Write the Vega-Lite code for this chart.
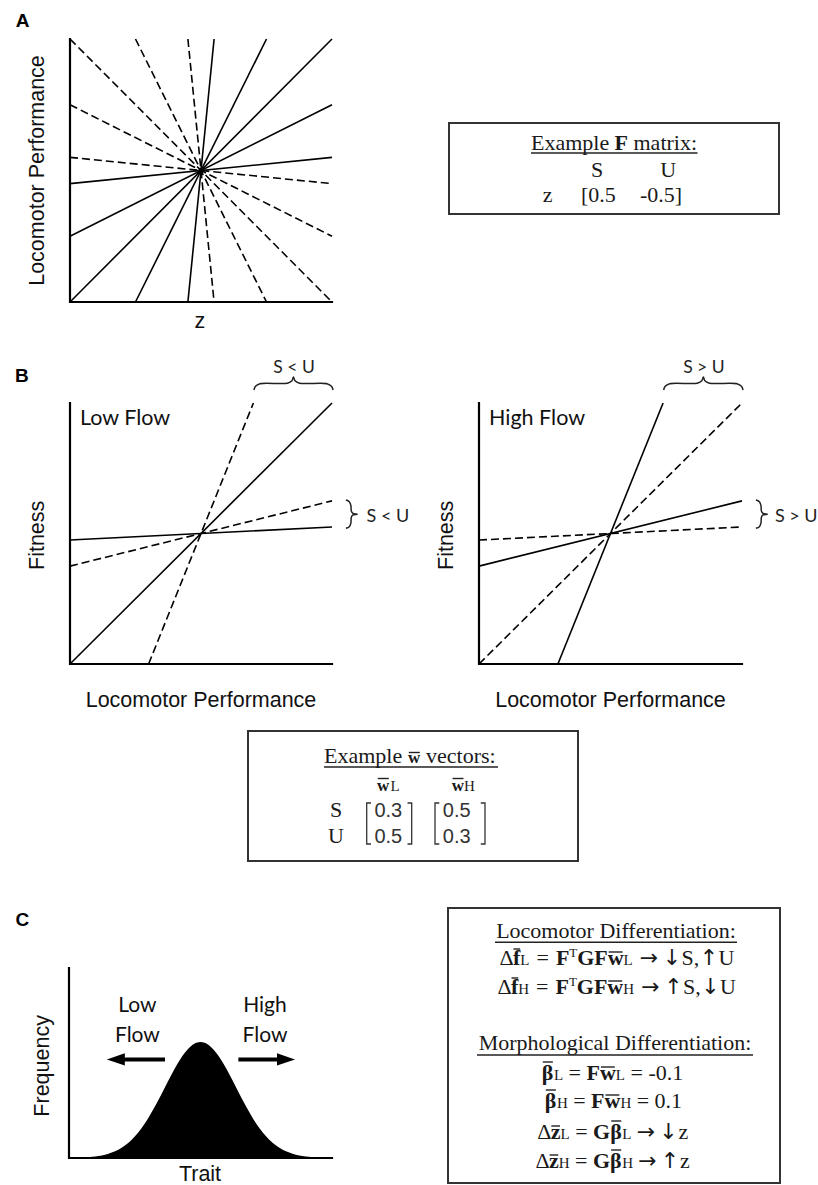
{
  "$schema": "https://vega.github.io/schema/vega-lite/v6.json",
  "width": 818,
  "height": 1185,
  "autosize": "none",
  "padding": 0,
  "background": "white",
  "config": {"view": {"stroke": null}},
  "datasets": {
    "corner": [{"i": 0, "x": 0, "y": 10}, {"i": 1, "x": 0, "y": 0}, {"i": 2, "x": 10, "y": 0}],
    "lineSegs": [
      {"panel": "A", "style": "solid", "x": 0, "y": 0, "x2": 10, "y2": 10},
      {"panel": "A", "style": "solid", "x": 2.5, "y": 0, "x2": 7.5, "y2": 10},
      {"panel": "A", "style": "solid", "x": 4.5, "y": 0, "x2": 5.5, "y2": 10},
      {"panel": "A", "style": "solid", "x": 0, "y": 2.5, "x2": 10, "y2": 7.5},
      {"panel": "A", "style": "solid", "x": 0, "y": 4.5, "x2": 10, "y2": 5.5},
      {"panel": "A", "style": "dashed", "x": 0, "y": 10, "x2": 10, "y2": 0},
      {"panel": "A", "style": "dashed", "x": 2.5, "y": 10, "x2": 7.5, "y2": 0},
      {"panel": "A", "style": "dashed", "x": 4.5, "y": 10, "x2": 5.5, "y2": 0},
      {"panel": "A", "style": "dashed", "x": 0, "y": 7.5, "x2": 10, "y2": 2.5},
      {"panel": "A", "style": "dashed", "x": 0, "y": 5.5, "x2": 10, "y2": 4.5},
      {"panel": "low", "style": "solid", "x": 0, "y": 0, "x2": 10, "y2": 10},
      {"panel": "low", "style": "dashed", "x": 3, "y": 0, "x2": 7, "y2": 10},
      {"panel": "low", "style": "solid", "x": 0, "y": 4.75, "x2": 10, "y2": 5.25},
      {"panel": "low", "style": "dashed", "x": 0, "y": 3.75, "x2": 10, "y2": 6.25},
      {"panel": "high", "style": "dashed", "x": 0, "y": 0, "x2": 10, "y2": 10},
      {"panel": "high", "style": "solid", "x": 3, "y": 0, "x2": 7, "y2": 10},
      {"panel": "high", "style": "solid", "x": 0, "y": 3.75, "x2": 10, "y2": 6.25},
      {"panel": "high", "style": "dashed", "x": 0, "y": 4.75, "x2": 10, "y2": 5.25}
    ],
    "braces": [
      {"id": "top", "i": 0, "x": 7.02, "y": 10.5},
      {"id": "top", "i": 1, "x": 7.08, "y": 10.64},
      {"id": "top", "i": 2, "x": 7.25, "y": 10.74},
      {"id": "top", "i": 3, "x": 8.3, "y": 10.76},
      {"id": "top", "i": 4, "x": 8.47, "y": 10.85},
      {"id": "top", "i": 5, "x": 8.53, "y": 11.0},
      {"id": "top", "i": 6, "x": 8.59, "y": 10.85},
      {"id": "top", "i": 7, "x": 8.76, "y": 10.76},
      {"id": "top", "i": 8, "x": 9.81, "y": 10.74},
      {"id": "top", "i": 9, "x": 9.98, "y": 10.64},
      {"id": "top", "i": 10, "x": 10.04, "y": 10.5},
      {"id": "right", "i": 0, "x": 10.53, "y": 6.28},
      {"id": "right", "i": 1, "x": 10.66, "y": 6.22},
      {"id": "right", "i": 2, "x": 10.72, "y": 6.08},
      {"id": "right", "i": 3, "x": 10.74, "y": 5.85},
      {"id": "right", "i": 4, "x": 10.8, "y": 5.77},
      {"id": "right", "i": 5, "x": 10.96, "y": 5.74},
      {"id": "right", "i": 6, "x": 10.8, "y": 5.71},
      {"id": "right", "i": 7, "x": 10.74, "y": 5.63},
      {"id": "right", "i": 8, "x": 10.72, "y": 5.4},
      {"id": "right", "i": 9, "x": 10.66, "y": 5.26},
      {"id": "right", "i": 10, "x": 10.53, "y": 5.2}
    ],
    "gauss": [
      {"x": 0, "y": 0.007}, {"x": 0.25, "y": 0.014}, {"x": 0.5, "y": 0.026}, {"x": 0.75, "y": 0.046},
      {"x": 1, "y": 0.081}, {"x": 1.25, "y": 0.136}, {"x": 1.5, "y": 0.222}, {"x": 1.75, "y": 0.351},
      {"x": 2, "y": 0.535}, {"x": 2.25, "y": 0.789}, {"x": 2.5, "y": 1.126}, {"x": 2.75, "y": 1.552},
      {"x": 3, "y": 2.069}, {"x": 3.25, "y": 2.666}, {"x": 3.5, "y": 3.32}, {"x": 3.75, "y": 3.999},
      {"x": 4, "y": 4.656}, {"x": 4.25, "y": 5.239}, {"x": 4.5, "y": 5.701}, {"x": 4.75, "y": 5.998},
      {"x": 5, "y": 6.1},
      {"x": 5.25, "y": 5.998}, {"x": 5.5, "y": 5.701}, {"x": 5.75, "y": 5.239}, {"x": 6, "y": 4.656},
      {"x": 6.25, "y": 3.999}, {"x": 6.5, "y": 3.32}, {"x": 6.75, "y": 2.666}, {"x": 7, "y": 2.069},
      {"x": 7.25, "y": 1.552}, {"x": 7.5, "y": 1.126}, {"x": 7.75, "y": 0.789}, {"x": 8, "y": 0.535},
      {"x": 8.25, "y": 0.351}, {"x": 8.5, "y": 0.222}, {"x": 8.75, "y": 0.136}, {"x": 9, "y": 0.081},
      {"x": 9.25, "y": 0.046}, {"x": 9.5, "y": 0.026}, {"x": 9.75, "y": 0.014}, {"x": 10, "y": 0.007}
    ],
    "arrowShafts": [{"x": 1.78, "x2": 3.65, "y": 5.19}, {"x": 6.44, "x2": 8.25, "y": 5.19}],
    "arrowHeads": [{"dir": "left", "x": 1.78, "y": 5.19}, {"dir": "right", "x": 8.25, "y": 5.19}],
    "plotText": [
      {"panel": "A", "role": "letter", "x": -1.81, "y": 10.46, "text": "A"},
      {"panel": "A", "role": "ytitle", "x": -0.98, "y": 5.0, "text": "Locomotor Performance"},
      {"panel": "A", "role": "xtitle", "x": 4.96, "y": -1.0, "text": "z"},
      {"panel": "low", "role": "letter", "x": -1.84, "y": 10.82, "text": "B"},
      {"panel": "low", "role": "ptitle", "x": 0.38, "y": 9.16, "text": "Low Flow"},
      {"panel": "low", "role": "ytitle", "x": -1.0, "y": 4.93, "text": "Fitness"},
      {"panel": "low", "role": "xtitle", "x": 5, "y": -1.64, "text": "Locomotor Performance"},
      {"panel": "low", "role": "braceTop", "x": 8.55, "y": 11.14, "text": "S < U"},
      {"panel": "low", "role": "braceRight", "x": 11.32, "y": 5.45, "text": "S < U"},
      {"panel": "high", "role": "ptitle", "x": 0.38, "y": 9.16, "text": "High Flow"},
      {"panel": "high", "role": "ytitle", "x": -1.0, "y": 4.93, "text": "Fitness"},
      {"panel": "high", "role": "xtitle", "x": 5, "y": -1.64, "text": "Locomotor Performance"},
      {"panel": "high", "role": "braceTop", "x": 8.55, "y": 11.14, "text": "S > U"},
      {"panel": "high", "role": "braceRight", "x": 11.25, "y": 5.45, "text": "S > U"},
      {"panel": "C", "role": "letter", "x": -1.77, "y": 12.21, "text": "C"},
      {"panel": "C", "role": "ytitle", "x": -0.76, "y": 4.85, "text": "Frequency"},
      {"panel": "C", "role": "xtitle", "x": 4.98, "y": -1.22, "text": "Trait"},
      {"panel": "C", "role": "flow", "x": 2.6, "y": 7.67, "text": "Low"},
      {"panel": "C", "role": "flow", "x": 2.6, "y": 6.12, "text": "Flow"},
      {"panel": "C", "role": "flow", "x": 7.45, "y": 7.7, "text": "High"},
      {"panel": "C", "role": "flow", "x": 7.45, "y": 6.12, "text": "Flow"}
    ],
    "boxes": [
      {"box": "F", "x": 0, "y": 0, "x2": 330, "y2": 91},
      {"box": "W", "x": 0, "y": 0, "x2": 330, "y2": 130},
      {"box": "C", "x": 0, "y": 0, "x2": 332, "y2": 275}
    ],
    "boxRules": [
      {"box": "F", "x": 82, "x2": 248.5, "y": 30},
      {"box": "W", "x": 76, "x2": 250, "y": 36},
      {"box": "W", "x": 160.8, "x2": 171.8, "y": 21.5},
      {"box": "W", "x": 129.8, "x2": 140.8, "y": 47.5},
      {"box": "W", "x": 204.5, "x2": 215.5, "y": 47.5},
      {"box": "C", "x": 47, "x2": 289, "y": 34.3},
      {"box": "C", "x": 29, "x2": 305, "y": 147},
      {"box": "C", "x": 65.5, "x2": 72.2, "y": 41},
      {"box": "C", "x": 160.7, "x2": 174.6, "y": 44},
      {"box": "C", "x": 63.5, "x2": 70.2, "y": 70},
      {"box": "C", "x": 160.3, "x2": 174.2, "y": 73},
      {"box": "C", "x": 94.8, "x2": 104.9, "y": 154},
      {"box": "C", "x": 152.9, "x2": 166.8, "y": 159},
      {"box": "C", "x": 97.8, "x2": 107.9, "y": 182},
      {"box": "C", "x": 157.5, "x2": 171.4, "y": 187},
      {"box": "C", "x": 103.3, "x2": 112, "y": 218},
      {"box": "C", "x": 163.2, "x2": 173.3, "y": 213},
      {"box": "C", "x": 101.6, "x2": 110.3, "y": 247},
      {"box": "C", "x": 163.1, "x2": 173.2, "y": 242}
    ],
    "brackets": [
      {"id": "m1L", "i": 0, "x": 123, "y": 72}, {"id": "m1L", "i": 1, "x": 118.7, "y": 72}, {"id": "m1L", "i": 2, "x": 118.7, "y": 113}, {"id": "m1L", "i": 3, "x": 123, "y": 113},
      {"id": "m1R", "i": 0, "x": 159.5, "y": 72}, {"id": "m1R", "i": 1, "x": 163.7, "y": 72}, {"id": "m1R", "i": 2, "x": 163.7, "y": 113}, {"id": "m1R", "i": 3, "x": 159.5, "y": 113},
      {"id": "m2L", "i": 0, "x": 191.3, "y": 72}, {"id": "m2L", "i": 1, "x": 187, "y": 72}, {"id": "m2L", "i": 2, "x": 187, "y": 113}, {"id": "m2L", "i": 3, "x": 191.3, "y": 113},
      {"id": "m2R", "i": 0, "x": 232.8, "y": 72}, {"id": "m2R", "i": 1, "x": 237, "y": 72}, {"id": "m2R", "i": 2, "x": 237, "y": 113}, {"id": "m2R", "i": 3, "x": 232.8, "y": 113}
    ],
    "boxText": [
      {"box": "F", "role": "plain", "x": 82, "y": 27, "text": "Example"},
      {"box": "F", "role": "bold", "x": 165.6, "y": 27, "text": "F"},
      {"box": "F", "role": "plain", "x": 184.5, "y": 27, "text": "matrix:"},
      {"box": "F", "role": "center", "x": 148, "y": 54, "text": "S"},
      {"box": "F", "role": "center", "x": 219.3, "y": 54, "text": "U"},
      {"box": "F", "role": "center", "x": 98.5, "y": 78.7, "text": "z"},
      {"box": "F", "role": "plain", "x": 132, "y": 78.7, "text": "[0.5"},
      {"box": "F", "role": "plain", "x": 191, "y": 78.7, "text": "-0.5]"},

      {"box": "W", "role": "plain", "x": 76, "y": 32.3, "text": "Example"},
      {"box": "W", "role": "boldsm", "x": 160, "y": 32.3, "text": "w"},
      {"box": "W", "role": "plain", "x": 178, "y": 32.3, "text": "vectors:"},
      {"box": "W", "role": "boldsm", "x": 129, "y": 60, "text": "w"},
      {"box": "W", "role": "sub", "x": 142.5, "y": 60, "text": "L"},
      {"box": "W", "role": "boldsm", "x": 203.7, "y": 60, "text": "w"},
      {"box": "W", "role": "sub", "x": 216, "y": 60, "text": "H"},
      {"box": "W", "role": "center", "x": 88, "y": 85.7, "text": "S"},
      {"box": "W", "role": "center", "x": 88, "y": 112.3, "text": "U"},
      {"box": "W", "role": "num", "x": 140.3, "y": 85.7, "text": "0.3"},
      {"box": "W", "role": "num", "x": 140.3, "y": 112.3, "text": "0.5"},
      {"box": "W", "role": "num", "x": 208.7, "y": 85.7, "text": "0.5"},
      {"box": "W", "role": "num", "x": 208.7, "y": 112.3, "text": "0.3"},

      {"box": "C", "role": "center", "x": 168, "y": 30, "text": "Locomotor Differentiation:"},
      {"box": "C", "role": "plain", "x": 51.5, "y": 57, "text": "Δ"},
      {"box": "C", "role": "bold", "x": 65, "y": 57, "text": "f"},
      {"box": "C", "role": "sub", "x": 72.3, "y": 57, "text": "L"},
      {"box": "C", "role": "plain", "x": 88.5, "y": 57, "text": "="},
      {"box": "C", "role": "bold", "x": 107.9, "y": 57, "text": "F"},
      {"box": "C", "role": "sup", "x": 121.3, "y": 49, "text": "T"},
      {"box": "C", "role": "bold", "x": 129.2, "y": 57, "text": "GFw"},
      {"box": "C", "role": "sub", "x": 175.6, "y": 57, "text": "L"},
      {"box": "C", "role": "arrow", "x": 201, "y": 57, "text": "→"},
      {"box": "C", "role": "arrow", "x": 224, "y": 57, "text": "↓"},
      {"box": "C", "role": "plain", "x": 233.5, "y": 57, "text": "S,"},
      {"box": "C", "role": "arrow", "x": 261, "y": 57, "text": "↑"},
      {"box": "C", "role": "plain", "x": 270.5, "y": 57, "text": "U"},
      {"box": "C", "role": "plain", "x": 49.5, "y": 86, "text": "Δ"},
      {"box": "C", "role": "bold", "x": 63, "y": 86, "text": "f"},
      {"box": "C", "role": "sub", "x": 70.3, "y": 86, "text": "H"},
      {"box": "C", "role": "plain", "x": 88.1, "y": 86, "text": "="},
      {"box": "C", "role": "bold", "x": 107.5, "y": 86, "text": "F"},
      {"box": "C", "role": "sup", "x": 120.9, "y": 78, "text": "T"},
      {"box": "C", "role": "bold", "x": 128.8, "y": 86, "text": "GFw"},
      {"box": "C", "role": "sub", "x": 175.2, "y": 86, "text": "H"},
      {"box": "C", "role": "arrow", "x": 202.5, "y": 86, "text": "→"},
      {"box": "C", "role": "arrow", "x": 225.5, "y": 86, "text": "↑"},
      {"box": "C", "role": "plain", "x": 235, "y": 86, "text": "S,"},
      {"box": "C", "role": "arrow", "x": 262.5, "y": 86, "text": "↓"},
      {"box": "C", "role": "plain", "x": 272, "y": 86, "text": "U"},
      {"box": "C", "role": "center", "x": 167, "y": 142, "text": "Morphological Differentiation:"},
      {"box": "C", "role": "bold", "x": 93.8, "y": 172, "text": "β"},
      {"box": "C", "role": "sub", "x": 105.9, "y": 172, "text": "L"},
      {"box": "C", "role": "plain", "x": 120.6, "y": 172, "text": "="},
      {"box": "C", "role": "bold", "x": 138.5, "y": 172, "text": "Fw"},
      {"box": "C", "role": "sub", "x": 167.8, "y": 172, "text": "L"},
      {"box": "C", "role": "plain", "x": 182.5, "y": 172, "text": "= -0.1"},
      {"box": "C", "role": "bold", "x": 96.8, "y": 200, "text": "β"},
      {"box": "C", "role": "sub", "x": 108.9, "y": 200, "text": "H"},
      {"box": "C", "role": "plain", "x": 125.2, "y": 200, "text": "="},
      {"box": "C", "role": "bold", "x": 143.1, "y": 200, "text": "Fw"},
      {"box": "C", "role": "sub", "x": 172.4, "y": 200, "text": "H"},
      {"box": "C", "role": "plain", "x": 188.7, "y": 200, "text": "= 0.1"},
      {"box": "C", "role": "plain", "x": 89.3, "y": 231, "text": "Δ"},
      {"box": "C", "role": "bold", "x": 102.8, "y": 231, "text": "z"},
      {"box": "C", "role": "sub", "x": 112.5, "y": 231, "text": "L"},
      {"box": "C", "role": "plain", "x": 127.2, "y": 231, "text": "="},
      {"box": "C", "role": "bold", "x": 145.1, "y": 231, "text": "Gβ"},
      {"box": "C", "role": "sub", "x": 174.3, "y": 231, "text": "L"},
      {"box": "C", "role": "arrow", "x": 198, "y": 231, "text": "→"},
      {"box": "C", "role": "arrow", "x": 220.5, "y": 231, "text": "↓"},
      {"box": "C", "role": "plain", "x": 230.5, "y": 231, "text": "z"},
      {"box": "C", "role": "plain", "x": 87.6, "y": 260, "text": "Δ"},
      {"box": "C", "role": "bold", "x": 101.1, "y": 260, "text": "z"},
      {"box": "C", "role": "sub", "x": 110.8, "y": 260, "text": "H"},
      {"box": "C", "role": "plain", "x": 127.1, "y": 260, "text": "="},
      {"box": "C", "role": "bold", "x": 145.0, "y": 260, "text": "Gβ"},
      {"box": "C", "role": "sub", "x": 174.2, "y": 260, "text": "H"},
      {"box": "C", "role": "arrow", "x": 199.5, "y": 260, "text": "→"},
      {"box": "C", "role": "arrow", "x": 222, "y": 260, "text": "↑"},
      {"box": "C", "role": "plain", "x": 232, "y": 260, "text": "z"}
    ]
  },
  "layer": [
    {
      "encoding": {
        "x": {"field": "x", "type": "quantitative", "axis": null, "scale": {"domain": [0, 10], "range": [70, 332], "nice": false, "zero": false}},
        "y": {"field": "y", "type": "quantitative", "axis": null, "scale": {"domain": [0, 10], "range": [302, 39], "nice": false, "zero": false}}
      },
      "layer": [
        {"data": {"name": "lineSegs"}, "transform": [{"filter": "datum.panel === 'A' && datum.style === 'solid'"}], "mark": {"type": "rule", "color": "#000", "strokeWidth": 1.6}, "encoding": {"x2": {"field": "x2"}, "y2": {"field": "y2"}}},
        {"data": {"name": "lineSegs"}, "transform": [{"filter": "datum.panel === 'A' && datum.style === 'dashed'"}], "mark": {"type": "rule", "color": "#000", "strokeWidth": 1.6, "strokeDash": [8, 4]}, "encoding": {"x2": {"field": "x2"}, "y2": {"field": "y2"}}},
        {"data": {"name": "corner"}, "mark": {"type": "line", "color": "#000", "strokeWidth": 2.2, "strokeJoin": "miter", "strokeCap": "square"}, "encoding": {"order": {"field": "i", "type": "quantitative"}}},
        {"data": {"name": "plotText"}, "transform": [{"filter": "datum.panel === 'A' && datum.role === 'letter'"}], "mark": {"type": "text", "font": "Liberation Sans", "fontWeight": "bold", "fontSize": 19, "align": "center", "baseline": "alphabetic", "color": "#000"}, "encoding": {"text": {"field": "text"}}},
        {"data": {"name": "plotText"}, "transform": [{"filter": "datum.panel === 'A' && datum.role === 'ytitle'"}], "mark": {"type": "text", "font": "Liberation Sans", "fontSize": 21.5, "angle": 270, "align": "center", "baseline": "alphabetic", "color": "#111"}, "encoding": {"text": {"field": "text"}}},
        {"data": {"name": "plotText"}, "transform": [{"filter": "datum.panel === 'A' && datum.role === 'xtitle'"}], "mark": {"type": "text", "font": "Liberation Sans", "fontSize": 21.5, "align": "center", "baseline": "alphabetic", "color": "#111"}, "encoding": {"text": {"field": "text"}}}
      ]
    },
    {
      "encoding": {
        "x": {"field": "x", "type": "quantitative", "axis": null, "scale": {"domain": [0, 330], "range": [449, 779], "nice": false, "zero": false}},
        "y": {"field": "y", "type": "quantitative", "axis": null, "scale": {"domain": [0, 91], "range": [123, 214], "nice": false, "zero": false}}
      },
      "layer": [
        {"data": {"name": "boxes"}, "transform": [{"filter": "datum.box === 'F'"}], "mark": {"type": "rect", "fill": "transparent", "stroke": "#333", "strokeWidth": 2}, "encoding": {"x2": {"field": "x2"}, "y2": {"field": "y2"}}},
        {"data": {"name": "boxRules"}, "transform": [{"filter": "datum.box === 'F'"}], "mark": {"type": "rule", "color": "#222", "strokeWidth": 1.3}, "encoding": {"x2": {"field": "x2"}}},
        {"data": {"name": "boxText"}, "transform": [{"filter": "datum.box === 'F' && datum.role === 'plain'"}], "mark": {"type": "text", "font": "Liberation Serif", "fontSize": 22, "align": "left", "baseline": "alphabetic", "color": "#1a1a1a"}, "encoding": {"text": {"field": "text"}}},
        {"data": {"name": "boxText"}, "transform": [{"filter": "datum.box === 'F' && datum.role === 'bold'"}], "mark": {"type": "text", "font": "Liberation Serif", "fontWeight": "bold", "fontSize": 22, "align": "left", "baseline": "alphabetic", "color": "#1a1a1a"}, "encoding": {"text": {"field": "text"}}},
        {"data": {"name": "boxText"}, "transform": [{"filter": "datum.box === 'F' && datum.role === 'center'"}], "mark": {"type": "text", "font": "Liberation Serif", "fontSize": 22, "align": "center", "baseline": "alphabetic", "color": "#1a1a1a"}, "encoding": {"text": {"field": "text"}}}
      ]
    },
    {
      "encoding": {
        "x": {"field": "x", "type": "quantitative", "axis": null, "scale": {"domain": [0, 10], "range": [70, 332], "nice": false, "zero": false}},
        "y": {"field": "y", "type": "quantitative", "axis": null, "scale": {"domain": [0, 10], "range": [664, 403], "nice": false, "zero": false}}
      },
      "layer": [
        {"data": {"name": "lineSegs"}, "transform": [{"filter": "datum.panel === 'low' && datum.style === 'solid'"}], "mark": {"type": "rule", "color": "#000", "strokeWidth": 1.6}, "encoding": {"x2": {"field": "x2"}, "y2": {"field": "y2"}}},
        {"data": {"name": "lineSegs"}, "transform": [{"filter": "datum.panel === 'low' && datum.style === 'dashed'"}], "mark": {"type": "rule", "color": "#000", "strokeWidth": 1.6, "strokeDash": [8, 4]}, "encoding": {"x2": {"field": "x2"}, "y2": {"field": "y2"}}},
        {"data": {"name": "corner"}, "mark": {"type": "line", "color": "#000", "strokeWidth": 2.2, "strokeJoin": "miter", "strokeCap": "square"}, "encoding": {"order": {"field": "i", "type": "quantitative"}}},
        {"data": {"name": "braces"}, "mark": {"type": "line", "color": "#222", "strokeWidth": 1.5, "interpolate": "catmull-rom"}, "encoding": {"detail": {"field": "id"}, "order": {"field": "i", "type": "quantitative"}}},
        {"data": {"name": "plotText"}, "transform": [{"filter": "datum.panel === 'low' && datum.role === 'letter'"}], "mark": {"type": "text", "font": "Liberation Sans", "fontWeight": "bold", "fontSize": 19, "align": "center", "baseline": "alphabetic", "color": "#000"}, "encoding": {"text": {"field": "text"}}},
        {"data": {"name": "plotText"}, "transform": [{"filter": "datum.panel === 'low' && datum.role === 'ytitle'"}], "mark": {"type": "text", "font": "Liberation Sans", "fontSize": 21.5, "angle": 270, "align": "center", "baseline": "alphabetic", "color": "#111"}, "encoding": {"text": {"field": "text"}}},
        {"data": {"name": "plotText"}, "transform": [{"filter": "datum.panel === 'low' && datum.role === 'xtitle'"}], "mark": {"type": "text", "font": "Liberation Sans", "fontSize": 21.5, "align": "center", "baseline": "alphabetic", "color": "#111"}, "encoding": {"text": {"field": "text"}}},
        {"data": {"name": "plotText"}, "transform": [{"filter": "datum.panel === 'low' && datum.role === 'ptitle'"}], "mark": {"type": "text", "font": "Lato", "fontSize": 21.5, "align": "left", "baseline": "alphabetic", "color": "#111"}, "encoding": {"text": {"field": "text"}}},
        {"data": {"name": "plotText"}, "transform": [{"filter": "datum.panel === 'low' && datum.role === 'braceTop'"}], "mark": {"type": "text", "font": "Lato", "fontSize": 17.5, "align": "center", "baseline": "alphabetic", "color": "#222"}, "encoding": {"text": {"field": "text"}}},
        {"data": {"name": "plotText"}, "transform": [{"filter": "datum.panel === 'low' && datum.role === 'braceRight'"}], "mark": {"type": "text", "font": "Lato", "fontSize": 18, "align": "left", "baseline": "alphabetic", "color": "#222"}, "encoding": {"text": {"field": "text"}}}
      ]
    },
    {
      "encoding": {
        "x": {"field": "x", "type": "quantitative", "axis": null, "scale": {"domain": [0, 10], "range": [479, 742], "nice": false, "zero": false}},
        "y": {"field": "y", "type": "quantitative", "axis": null, "scale": {"domain": [0, 10], "range": [664, 403], "nice": false, "zero": false}}
      },
      "layer": [
        {"data": {"name": "lineSegs"}, "transform": [{"filter": "datum.panel === 'high' && datum.style === 'solid'"}], "mark": {"type": "rule", "color": "#000", "strokeWidth": 1.6}, "encoding": {"x2": {"field": "x2"}, "y2": {"field": "y2"}}},
        {"data": {"name": "lineSegs"}, "transform": [{"filter": "datum.panel === 'high' && datum.style === 'dashed'"}], "mark": {"type": "rule", "color": "#000", "strokeWidth": 1.6, "strokeDash": [8, 4]}, "encoding": {"x2": {"field": "x2"}, "y2": {"field": "y2"}}},
        {"data": {"name": "corner"}, "mark": {"type": "line", "color": "#000", "strokeWidth": 2.2, "strokeJoin": "miter", "strokeCap": "square"}, "encoding": {"order": {"field": "i", "type": "quantitative"}}},
        {"data": {"name": "braces"}, "mark": {"type": "line", "color": "#222", "strokeWidth": 1.5, "interpolate": "catmull-rom"}, "encoding": {"detail": {"field": "id"}, "order": {"field": "i", "type": "quantitative"}}},
        {"data": {"name": "plotText"}, "transform": [{"filter": "datum.panel === 'high' && datum.role === 'ytitle'"}], "mark": {"type": "text", "font": "Liberation Sans", "fontSize": 21.5, "angle": 270, "align": "center", "baseline": "alphabetic", "color": "#111"}, "encoding": {"text": {"field": "text"}}},
        {"data": {"name": "plotText"}, "transform": [{"filter": "datum.panel === 'high' && datum.role === 'xtitle'"}], "mark": {"type": "text", "font": "Liberation Sans", "fontSize": 21.5, "align": "center", "baseline": "alphabetic", "color": "#111"}, "encoding": {"text": {"field": "text"}}},
        {"data": {"name": "plotText"}, "transform": [{"filter": "datum.panel === 'high' && datum.role === 'ptitle'"}], "mark": {"type": "text", "font": "Lato", "fontSize": 21.5, "align": "left", "baseline": "alphabetic", "color": "#111"}, "encoding": {"text": {"field": "text"}}},
        {"data": {"name": "plotText"}, "transform": [{"filter": "datum.panel === 'high' && datum.role === 'braceTop'"}], "mark": {"type": "text", "font": "Lato", "fontSize": 17.5, "align": "center", "baseline": "alphabetic", "color": "#222"}, "encoding": {"text": {"field": "text"}}},
        {"data": {"name": "plotText"}, "transform": [{"filter": "datum.panel === 'high' && datum.role === 'braceRight'"}], "mark": {"type": "text", "font": "Lato", "fontSize": 18, "align": "left", "baseline": "alphabetic", "color": "#222"}, "encoding": {"text": {"field": "text"}}}
      ]
    },
    {
      "encoding": {
        "x": {"field": "x", "type": "quantitative", "axis": null, "scale": {"domain": [0, 330], "range": [248, 578], "nice": false, "zero": false}},
        "y": {"field": "y", "type": "quantitative", "axis": null, "scale": {"domain": [0, 130], "range": [731, 861], "nice": false, "zero": false}}
      },
      "layer": [
        {"data": {"name": "boxes"}, "transform": [{"filter": "datum.box === 'W'"}], "mark": {"type": "rect", "fill": "transparent", "stroke": "#333", "strokeWidth": 2}, "encoding": {"x2": {"field": "x2"}, "y2": {"field": "y2"}}},
        {"data": {"name": "boxRules"}, "transform": [{"filter": "datum.box === 'W'"}], "mark": {"type": "rule", "color": "#222", "strokeWidth": 1.4}, "encoding": {"x2": {"field": "x2"}}},
        {"data": {"name": "brackets"}, "mark": {"type": "line", "color": "#333", "strokeWidth": 1.3, "strokeJoin": "miter"}, "encoding": {"detail": {"field": "id"}, "order": {"field": "i", "type": "quantitative"}}},
        {"data": {"name": "boxText"}, "transform": [{"filter": "datum.box === 'W' && datum.role === 'plain'"}], "mark": {"type": "text", "font": "Liberation Serif", "fontSize": 22, "align": "left", "baseline": "alphabetic", "color": "#1a1a1a"}, "encoding": {"text": {"field": "text"}}},
        {"data": {"name": "boxText"}, "transform": [{"filter": "datum.box === 'W' && datum.role === 'boldsm'"}], "mark": {"type": "text", "font": "Liberation Serif", "fontWeight": "bold", "fontSize": 17, "align": "left", "baseline": "alphabetic", "color": "#1a1a1a"}, "encoding": {"text": {"field": "text"}}},
        {"data": {"name": "boxText"}, "transform": [{"filter": "datum.box === 'W' && datum.role === 'sub'"}], "mark": {"type": "text", "font": "Liberation Serif", "fontSize": 15, "align": "left", "baseline": "alphabetic", "color": "#1a1a1a"}, "encoding": {"text": {"field": "text"}}},
        {"data": {"name": "boxText"}, "transform": [{"filter": "datum.box === 'W' && datum.role === 'center'"}], "mark": {"type": "text", "font": "Liberation Serif", "fontSize": 22, "align": "center", "baseline": "alphabetic", "color": "#1a1a1a"}, "encoding": {"text": {"field": "text"}}},
        {"data": {"name": "boxText"}, "transform": [{"filter": "datum.box === 'W' && datum.role === 'num'"}], "mark": {"type": "text", "font": "Liberation Sans", "fontSize": 20, "align": "center", "baseline": "alphabetic", "color": "#333"}, "encoding": {"text": {"field": "text"}}}
      ]
    },
    {
      "encoding": {
        "x": {"field": "x", "type": "quantitative", "axis": null, "scale": {"domain": [0, 10], "range": [69, 332], "nice": false, "zero": false}},
        "y": {"field": "y", "type": "quantitative", "axis": null, "scale": {"domain": [0, 10], "range": [1158, 968], "nice": false, "zero": false}}
      },
      "layer": [
        {"data": {"name": "gauss"}, "mark": {"type": "area", "color": "#000", "interpolate": "monotone"}},
        {"data": {"name": "corner"}, "mark": {"type": "line", "color": "#000", "strokeWidth": 2.2, "strokeJoin": "miter", "strokeCap": "square"}, "encoding": {"order": {"field": "i", "type": "quantitative"}}},
        {"data": {"name": "arrowShafts"}, "mark": {"type": "rule", "color": "#000", "strokeWidth": 4}, "encoding": {"x2": {"field": "x2"}}},
        {"data": {"name": "arrowHeads"}, "transform": [{"filter": "datum.dir === 'left'"}], "mark": {"type": "point", "filled": true, "color": "#000", "opacity": 1, "strokeWidth": 0, "size": 324, "shape": "M1,-0.67L-1,0L1,0.67Z"}},
        {"data": {"name": "arrowHeads"}, "transform": [{"filter": "datum.dir === 'right'"}], "mark": {"type": "point", "filled": true, "color": "#000", "opacity": 1, "strokeWidth": 0, "size": 324, "shape": "M-1,-0.67L1,0L-1,0.67Z"}},
        {"data": {"name": "plotText"}, "transform": [{"filter": "datum.panel === 'C' && datum.role === 'letter'"}], "mark": {"type": "text", "font": "Liberation Sans", "fontWeight": "bold", "fontSize": 19, "align": "center", "baseline": "alphabetic", "color": "#000"}, "encoding": {"text": {"field": "text"}}},
        {"data": {"name": "plotText"}, "transform": [{"filter": "datum.panel === 'C' && datum.role === 'ytitle'"}], "mark": {"type": "text", "font": "Liberation Sans", "fontSize": 21.5, "angle": 270, "align": "center", "baseline": "alphabetic", "color": "#111"}, "encoding": {"text": {"field": "text"}}},
        {"data": {"name": "plotText"}, "transform": [{"filter": "datum.panel === 'C' && datum.role === 'xtitle'"}], "mark": {"type": "text", "font": "Liberation Sans", "fontSize": 21.5, "align": "center", "baseline": "alphabetic", "color": "#111"}, "encoding": {"text": {"field": "text"}}},
        {"data": {"name": "plotText"}, "transform": [{"filter": "datum.panel === 'C' && datum.role === 'flow'"}], "mark": {"type": "text", "font": "Lato", "fontSize": 21, "align": "center", "baseline": "alphabetic", "color": "#111"}, "encoding": {"text": {"field": "text"}}}
      ]
    },
    {
      "encoding": {
        "x": {"field": "x", "type": "quantitative", "axis": null, "scale": {"domain": [0, 332], "range": [448, 780], "nice": false, "zero": false}},
        "y": {"field": "y", "type": "quantitative", "axis": null, "scale": {"domain": [0, 275], "range": [908, 1183], "nice": false, "zero": false}}
      },
      "layer": [
        {"data": {"name": "boxes"}, "transform": [{"filter": "datum.box === 'C'"}], "mark": {"type": "rect", "fill": "transparent", "stroke": "#333", "strokeWidth": 2}, "encoding": {"x2": {"field": "x2"}, "y2": {"field": "y2"}}},
        {"data": {"name": "boxRules"}, "transform": [{"filter": "datum.box === 'C'"}], "mark": {"type": "rule", "color": "#222", "strokeWidth": 1.4}, "encoding": {"x2": {"field": "x2"}}},
        {"data": {"name": "boxText"}, "transform": [{"filter": "datum.box === 'C' && datum.role === 'plain'"}], "mark": {"type": "text", "font": "Liberation Serif", "fontSize": 22, "align": "left", "baseline": "alphabetic", "color": "#1a1a1a"}, "encoding": {"text": {"field": "text"}}},
        {"data": {"name": "boxText"}, "transform": [{"filter": "datum.box === 'C' && datum.role === 'bold'"}], "mark": {"type": "text", "font": "Liberation Serif", "fontWeight": "bold", "fontSize": 22, "align": "left", "baseline": "alphabetic", "color": "#1a1a1a"}, "encoding": {"text": {"field": "text"}}},
        {"data": {"name": "boxText"}, "transform": [{"filter": "datum.box === 'C' && datum.role === 'sub'"}], "mark": {"type": "text", "font": "Liberation Serif", "fontSize": 15, "align": "left", "baseline": "alphabetic", "color": "#1a1a1a"}, "encoding": {"text": {"field": "text"}}},
        {"data": {"name": "boxText"}, "transform": [{"filter": "datum.box === 'C' && datum.role === 'sup'"}], "mark": {"type": "text", "font": "Liberation Serif", "fontSize": 13, "align": "left", "baseline": "alphabetic", "color": "#1a1a1a"}, "encoding": {"text": {"field": "text"}}},
        {"data": {"name": "boxText"}, "transform": [{"filter": "datum.box === 'C' && datum.role === 'arrow'"}], "mark": {"type": "text", "font": "DejaVu Sans", "fontWeight": "normal", "fontSize": 22, "align": "center", "baseline": "alphabetic", "color": "#1a1a1a"}, "encoding": {"text": {"field": "text"}}},
        {"data": {"name": "boxText"}, "transform": [{"filter": "datum.box === 'C' && datum.role === 'center'"}], "mark": {"type": "text", "font": "Liberation Serif", "fontSize": 22, "align": "center", "baseline": "alphabetic", "color": "#1a1a1a"}, "encoding": {"text": {"field": "text"}}}
      ]
    }
  ],
  "resolve": {"scale": {"x": "independent", "y": "independent"}}
}
